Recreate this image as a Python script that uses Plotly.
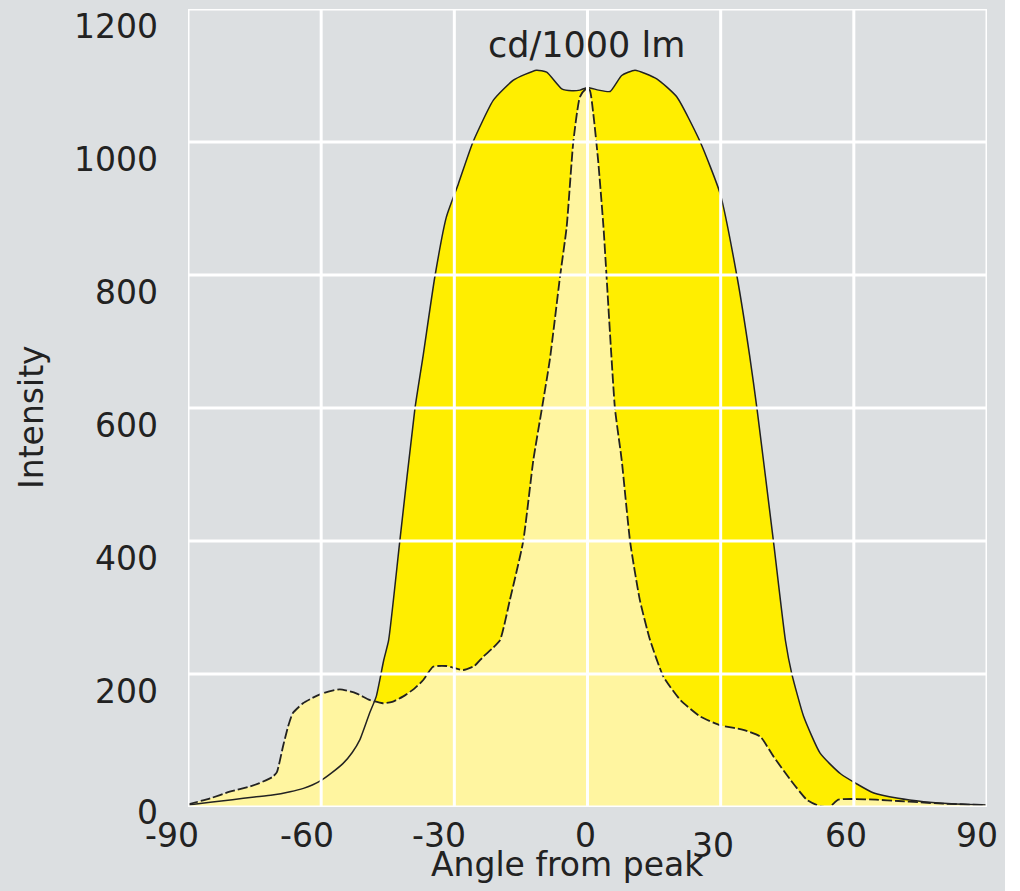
import plotly.graph_objects as go

# Wide beam (solid outline, bright yellow)
angles_wide = [-90, -85, -80, -75, -71, -67, -64, -62, -60, -57.5, -55, -53, -51.3, -49.1, -47.6,
               -45.9, -44.8, -42.3, -38.9, -37, -34.4, -31.8, -29.1, -25.8, -21.2, -16.7, -11.5,
               -9.2, -5.8, -3.5, -1.7, 0, 2.5, 5.1, 7.7, 10.7, 15.6, 20.1, 25.4, 29.9, 33.7, 36.5,
               38.2, 41.9, 44.6, 46, 48.7, 52.4, 57, 64.5, 70, 75.7, 82, 90]
intensity_wide = [3, 7, 11, 15, 18, 23, 28, 33, 40, 52, 66, 82, 101, 141, 166,
                  221, 251, 399, 598, 680, 797, 887, 937, 1000, 1063, 1093, 1108,
                  1105, 1080, 1077, 1078, 1082, 1078, 1076, 1100, 1108, 1095, 1068, 1000, 922, 797, 680,
                  598, 399, 250, 201, 136, 81, 50, 21, 13, 8, 5, 3]

# Narrow beam (dashed outline, pale yellow)
angles_narrow = [-90, -85, -80.6, -76, -73.9, -71, -70, -68.6, -67.5, -66.4, -64.1, -62, -59.6,
                 -55.8, -52.1, -49.1, -46.1, -44, -41.6, -39, -37, -34.8, -31.8, -28, -25.5, -23.5,
                 -21.5, -19.7, -17.5, -14.5, -12.2, -10.3, -8.5, -6.2, -4.7, -3.2, -1.7, -0.3, 0.5,
                 1.3, 2.4, 3.6, 4.3, 5.3, 6.2, 7.7, 9.6, 11.8, 14.1, 17.1, 20.9, 25.4, 29.9, 35.1,
                 38.9, 41.9, 45.7, 49.4, 52.4, 54.5, 56.5, 60, 65, 70, 75, 80, 90]
intensity_narrow = [4, 13, 23, 31, 36, 45, 52, 91, 120, 141, 156, 164, 171,
                    177, 171, 161, 156, 158, 166, 178, 191, 211, 212, 206, 212, 226,
                    238, 251, 311, 399, 522, 598, 672, 797, 872, 1000, 1068, 1080, 1078,
                    1043, 972, 872, 797, 687, 598, 522, 399, 311, 251, 196, 161, 136, 123, 116,
                    106, 76, 41, 11, 1, 0, 11, 12, 11, 9, 7, 5, 3]

x_ticks = [-90, -60, -30, 0, 30, 60, 90]
y_ticks = [0, 200, 400, 600, 800, 1000, 1200]

x_title = "Angle from peak"
y_title = "Intensity"
unit_label = "cd/1000 lm"

BG = "#dcdfe1"
BRIGHT = "#ffee00"
PALE = "#fff5a0"
INK = "#222222"
FONT = "DejaVu Sans"
FS = 33

fig = go.Figure()
line_shape = dict(shape="spline", smoothing=0.5)

fig.add_trace(go.Scatter(x=angles_wide, y=intensity_wide, mode="lines", fill="tozeroy",
                         fillcolor=BRIGHT, line=dict(width=0, color=BRIGHT, **line_shape),
                         hoverinfo="skip", showlegend=False))
fig.add_trace(go.Scatter(x=angles_narrow, y=intensity_narrow, mode="lines", fill="tozeroy",
                         fillcolor=PALE, line=dict(width=0, color=PALE, **line_shape),
                         hoverinfo="skip", showlegend=False))
fig.add_trace(go.Scatter(x=angles_wide, y=intensity_wide, mode="lines",
                         line=dict(width=1.5, color=INK, **line_shape), showlegend=False))
fig.add_trace(go.Scatter(x=angles_narrow, y=intensity_narrow, mode="lines",
                         line=dict(width=1.8, color=INK, dash="10px,3px", **line_shape),
                         showlegend=False))

shapes = []
for v in x_ticks:
    shapes.append(dict(type="line", xref="x", yref="y", x0=v, x1=v, y0=0, y1=y_ticks[-1],
                       line=dict(color="white", width=3), layer="above"))
for v in y_ticks:
    shapes.append(dict(type="line", xref="x", yref="y", x0=x_ticks[0], x1=x_ticks[-1], y0=v, y1=v,
                       line=dict(color="white", width=3), layer="above"))
# white strip at the right border of the picture
shapes.append(dict(type="rect", xref="paper", yref="paper", x0=1.0225, x1=1.06, y0=-0.2, y1=1.05,
                   fillcolor="white", line=dict(width=0), layer="below"))

annotations = []
for v in y_ticks:
    annotations.append(dict(x=0, xref="paper", y=v, yref="y", text=str(v), showarrow=False,
                            xanchor="right", yanchor="middle", xshift=-28,
                            yshift=-5 if v == 0 else -17,
                            font=dict(family=FONT, size=FS, color=INK)))
x_shift = {-90: -16, -60: -14, -30: -15, 0: -2, 30: -8, 60: -8, 90: -10}
for v in x_ticks:
    annotations.append(dict(x=v, xref="x", y=0, yref="y", text=str(v), showarrow=False,
                            xanchor="center", yanchor="middle", xshift=x_shift[v],
                            yshift=-38 if v == 30 else -28,
                            font=dict(family=FONT, size=FS, color=INK)))
annotations.append(dict(x=0, xref="x", y=0, yref="y", text=x_title, showarrow=False,
                        xanchor="center", yanchor="middle", xshift=-20, yshift=-57,
                        font=dict(family=FONT, size=FS, color=INK)))
annotations.append(dict(x=0, xref="paper", y=0.5, yref="paper", text=y_title, showarrow=False,
                        textangle=-90, xanchor="center", yanchor="middle", xshift=-157, yshift=-9,
                        font=dict(family=FONT, size=FS, color=INK)))
annotations.append(dict(x=0, xref="x", y=1200, yref="y", text=unit_label, showarrow=False,
                        xanchor="center", yanchor="middle", xshift=-1, yshift=-36,
                        font=dict(family=FONT, size=35, color=INK)))

fig.update_layout(
    width=1020, height=891, autosize=False,
    margin=dict(l=188, r=33, t=9, b=84, pad=0),
    paper_bgcolor=BG, plot_bgcolor=BG,
    xaxis=dict(range=[-90, 90], showgrid=False, zeroline=False, showticklabels=False,
               showline=False, ticks=""),
    yaxis=dict(range=[0, 1200], showgrid=False, zeroline=False, showticklabels=False,
               showline=False, ticks=""),
    shapes=shapes, annotations=annotations, showlegend=False,
)

fig.write_html(
    "out.html",
    config={"displayModeBar": False},
    post_script="document.body.style.margin='0';document.body.style.overflow='hidden';",
)
